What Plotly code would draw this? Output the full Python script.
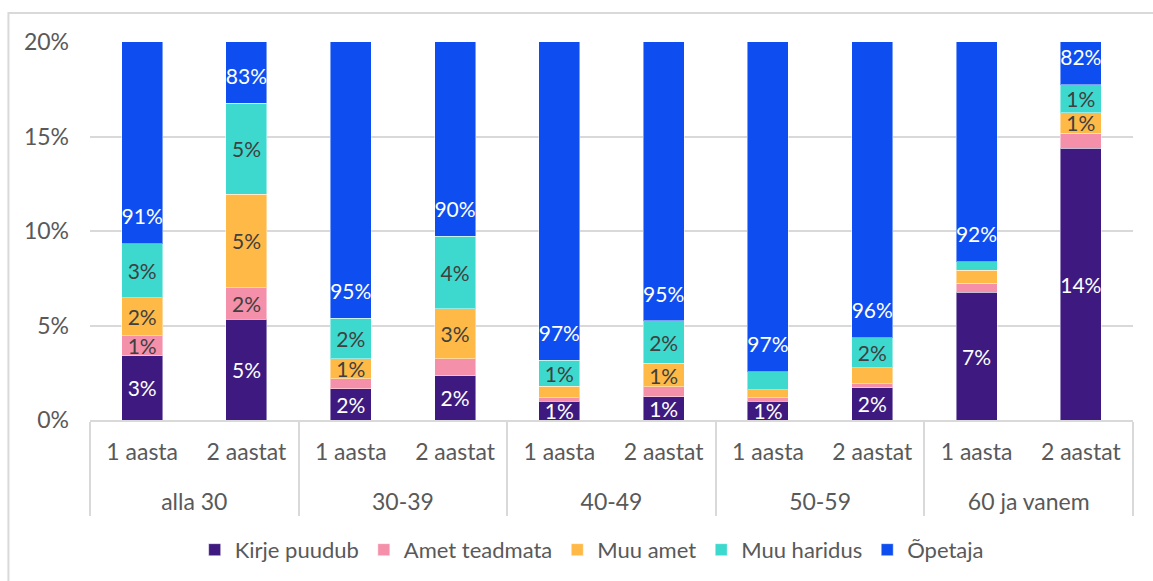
import plotly.graph_objects as go

groups = ["alla 30", "30-39", "40-49", "50-59", "60 ja vanem"]
subs = ["1 aasta", "2 aastat"]
series_names = ["Kirje puudub", "Amet teadmata", "Muu amet", "Muu haridus", "Õpetaja"]

kirje_puudub = [3.41, 5.32, 1.65, 2.35, 1.00, 1.24, 1.00, 1.70, 6.75, 14.37]
amet_teadmata = [1.06, 1.68, 0.53, 0.90, 0.18, 0.51, 0.19, 0.23, 0.49, 0.81]
muu_amet = [1.99, 4.95, 1.07, 2.63, 0.61, 1.24, 0.41, 0.83, 0.69, 1.08]
muu_haridus = [2.87, 4.80, 2.13, 3.83, 1.36, 2.25, 0.95, 1.59, 0.44, 1.48]
opetaja = [90.67, 83.25, 94.62, 90.29, 96.85, 94.76, 97.45, 95.65, 91.63, 82.26]

y_tickvals = [0, 5, 10, 15, 20]
y_ticktext = [f"{v}%" for v in y_tickvals]

colors = ["#3E1A80", "#F590AA", "#FFB946", "#3DD9CE", "#0E4EF0"]
label_colors = ["white", "#404040", "#404040", "#404040", "white"]

x_group = [g for g in groups for _ in subs]
# sub-labels get an empty second line so the group labels sit further below
x_sub = [s + "<br>\u00a0" for _ in groups for s in subs]
x = [x_group, x_sub]

FONT = "Lato"
TXT = "#595959"

fig = go.Figure()
all_series = [kirje_puudub, amet_teadmata, muu_amet, muu_haridus, opetaja]
for i, (name, vals) in enumerate(zip(series_names, all_series)):
    if i < 4:
        texts = [f"{round(v)}%" if v >= 1.0 else "" for v in vals]
    else:
        texts = None
    fig.add_trace(go.Bar(
        name=name, x=x, y=vals,
        marker=dict(color=colors[i], line=dict(color="rgba(255,255,255,0.45)", width=1)),
        text=texts,
        textposition="inside" if texts else "none",
        insidetextanchor="middle",
        textangle=0,
        constraintext="none",
        insidetextfont=dict(family=FONT, size=21, color=label_colors[i]),
        hoverinfo="skip",
    ))

# labels for the (clipped) Õpetaja segment, placed just above its base
bases = [a + b + c + d for a, b, c, d in zip(kirje_puudub, amet_teadmata, muu_amet, muu_haridus)]
fig.add_trace(go.Scatter(
    x=x, y=[b + 1.3 for b in bases], mode="text",
    text=[f"{round(v)}%" for v in opetaja],
    textfont=dict(family=FONT, size=21, color="white"),
    showlegend=False, hoverinfo="skip",
))

fig.update_layout(
    width=1153, height=581,
    barmode="stack", bargap=0.607,
    margin=dict(l=90, r=20, t=42, b=160),
    paper_bgcolor="white", plot_bgcolor="white",
    font=dict(family=FONT, size=22, color=TXT),
    legend=dict(orientation="h", x=0.481, xanchor="center", y=-0.34, yanchor="middle",
                font=dict(family=FONT, size=22, color=TXT), traceorder="normal"),
    shapes=[dict(type="rect", xref="paper", yref="paper",
                 x0=-0.0782, x1=1.1, y0=-0.6, y1=1.0765,
                 line=dict(color="#D9D9D9", width=2), fillcolor="rgba(0,0,0,0)", layer="below")],
)
fig.update_yaxes(range=[0, 20], tickvals=y_tickvals, ticktext=y_ticktext,
                 showgrid=True, gridcolor="#D9D9D9", gridwidth=2, zeroline=False,
                 ticklabelstandoff=20, tickfont=dict(family=FONT, size=23, color=TXT))
fig.update_xaxes(type="multicategory", showline=True, linecolor="#D9D9D9", linewidth=2,
                 showdividers=True, dividercolor="#D9D9D9", dividerwidth=2,
                 ticklabelstandoff=10,
                 tickfont=dict(family=FONT, size=23, color=TXT))

fig.write_html("out.html", post_script="document.body.style.margin='0';",
               config={"displayModeBar": False})
